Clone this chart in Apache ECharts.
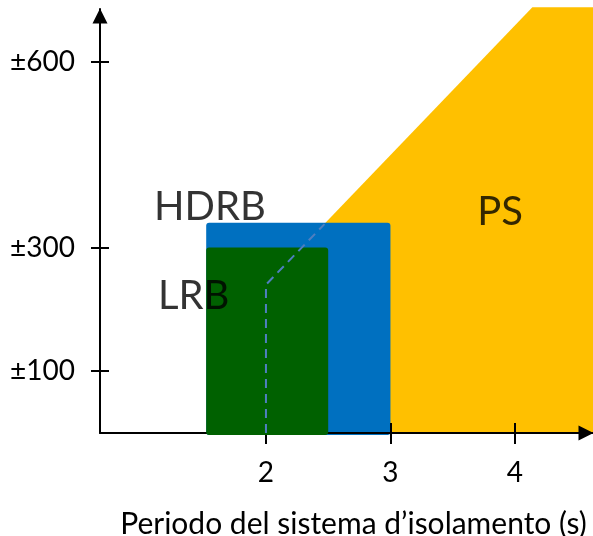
<!DOCTYPE html>
<html><head><meta charset="utf-8">
<script src="https://cdn.jsdelivr.net/npm/echarts@6/dist/echarts.min.js"></script>
<style>html,body{margin:0;padding:0;background:#fff}#c{width:593px;height:536px}</style>
</head><body><div id="c"></div>
<script>
// Data
const xTicks = [2, 3, 4];
const yTicks = [100, 300, 600];
const yTickLabels = {100: '±100', 300: '±300', 600: '±600'};
const xAxisName = 'Periodo del sistema d’isolamento (s)';
const psX = [2, 2, 4.14, 4.63, 4.63];
const psY = [0, 240, 689, 689, 0];
const hdrbX = [1.52, 3.0];
const hdrbY = [0, 340];
const lrbX = [1.52, 2.5];
const lrbY = [0, 300];
const dashX = [2, 2, 2.47];
const dashY = [0, 240, 338];
const labelNames = ['HDRB', 'LRB', 'PS'];
const labelX = [1.55, 1.42, 3.88];
const labelY = [366, 222, 358];

const FONT = 'Lato';
const chart = echarts.init(document.getElementById('c'));

function rectItem(xr, yr, color) {
  return function (params, api) {
    const p0 = api.coord([xr[0], yr[1]]);
    const p1 = api.coord([xr[1], yr[0]]);
    return {type: 'rect', shape: {x: p0[0], y: p0[1], width: p1[0] - p0[0], height: p1[1] - p0[1] + 2, r: 3},
      style: {fill: color}};
  };
}

const axisCommonX = {type: 'value', min: 0.667, max: 4.627};
const axisCommonY = {type: 'value', min: 0, max: 686};

chart.setOption({
  animation: false,
  grid: {left: 100, right: 0, top: 9, bottom: 103, containLabel: false, outerBoundsMode: 'none'},
  xAxis: [Object.assign({}, axisCommonX, {
    position: 'bottom', z: 3,
    axisLine: {show: true, onZero: false, lineStyle: {color: '#000', width: 2}, symbol: ['none', 'triangle'], symbolSize: [15, 15], symbolOffset: [0, -7]},
    axisTick: {show: true, length: 11, lineStyle: {color: '#000', width: 2}, customValues: xTicks},
    axisLabel: {show: true, margin: 26, fontFamily: FONT, fontSize: 28, color: '#000', customValues: xTicks},
    splitLine: {show: false},
    name: xAxisName, nameLocation: 'middle', nameGap: 76,
    nameTextStyle: {fontFamily: FONT, fontSize: 30, color: '#000', padding: [0, 0, 0, 14]}
  }), Object.assign({}, axisCommonX, {
    position: 'bottom', offset: 0, z: 3,
    axisLine: {show: false}, axisLabel: {show: false}, splitLine: {show: false},
    axisTick: {show: true, inside: true, length: 10, lineStyle: {color: '#000', width: 2}, customValues: xTicks}
  })],
  yAxis: [Object.assign({}, axisCommonY, {
    position: 'left', z: 3,
    axisLine: {show: true, onZero: false, lineStyle: {color: '#000', width: 2}, symbol: ['none', 'triangle'], symbolSize: [15, 15], symbolOffset: [0, -7]},
    axisTick: {show: true, length: 9, lineStyle: {color: '#000', width: 2}, customValues: yTicks},
    axisLabel: {show: true, margin: 25, fontFamily: FONT, fontSize: 28, color: '#000', customValues: yTicks,
      formatter: v => yTickLabels[v] || ''},
    splitLine: {show: false}
  }), Object.assign({}, axisCommonY, {
    position: 'left', offset: 0, z: 3,
    axisLine: {show: false}, axisLabel: {show: false}, splitLine: {show: false},
    axisTick: {show: true, inside: true, length: 9, lineStyle: {color: '#000', width: 2}, customValues: yTicks}
  })],
  series: [
    {type: 'custom', clip: false, z: 1, data: [0],
      renderItem: function (params, api) {
        const pts = psX.map((x, i) => api.coord([x, psY[i]]));
        return {type: 'polygon', shape: {points: pts}, style: {fill: '#FFC000'}};
      }},
    {type: 'custom', clip: false, z: 2, data: [0], renderItem: rectItem(hdrbX, hdrbY, '#0070C0')},
    {type: 'custom', clip: false, z: 4, data: [0], renderItem: rectItem(lrbX, lrbY, '#006100')},
    {type: 'line', z: 5, symbol: 'none', data: dashX.map((x, i) => [x, dashY[i]]),
      lineStyle: {color: '#4F7FC0', width: 2, type: [9, 6]}},
    {type: 'scatter', z: 6, symbolSize: 0, itemStyle: {color: '#000'},
      data: labelX.map((x, i) => ({value: [x, labelY[i]], name: labelNames[i]})),
      label: {show: true, position: 'inside', formatter: p => p.name, fontFamily: FONT, fontSize: 40, color: '#000',
        textBorderWidth: 0, textBorderColor: 'transparent'}}
  ]
});
</script></body></html>
